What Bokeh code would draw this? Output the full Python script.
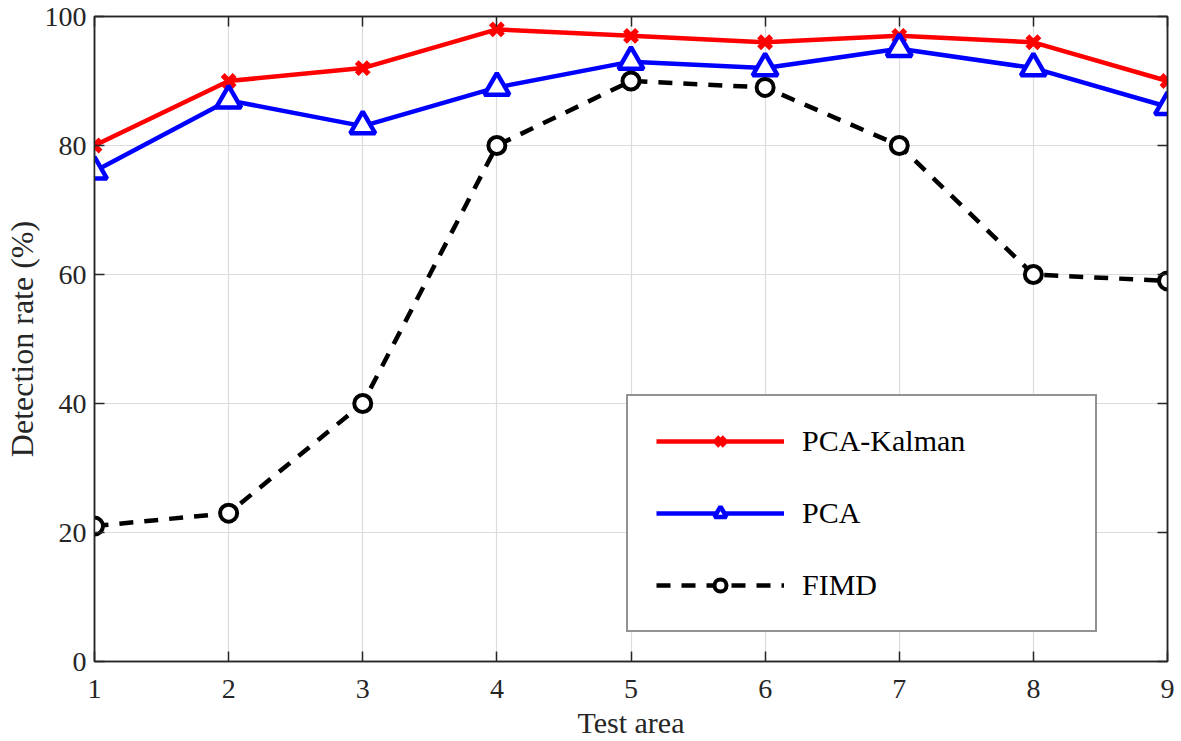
from bokeh.plotting import figure
from bokeh.models import LinearAxis, Range1d, Legend, LegendItem, FixedTicker
from bokeh.embed import file_html
from bokeh.resources import INLINE

test_area = [1, 2, 3, 4, 5, 6, 7, 8, 9]
pca_kalman = [80, 90, 92, 98, 97, 96, 97, 96, 90]
pca = [76, 87, 83, 89, 93, 92, 95, 92, 86]
fimd = [21, 23, 40, 80, 90, 89, 80, 60, 59]
x_ticks = [1, 2, 3, 4, 5, 6, 7, 8, 9]
y_ticks = [0, 20, 40, 60, 80, 100]

FONT = "Liberation Serif"
AX = "#262626"

p = figure(width=1181, height=741, output_backend="svg", toolbar_location=None,
           x_range=Range1d(1, 9), y_range=Range1d(0, 100),
           min_border_left=93, min_border_right=14, min_border_top=16, min_border_bottom=78)
p.background_fill_color = "white"
p.border_fill_color = "white"
p.outline_line_color = AX
p.outline_line_width = 1.5
p.outline_line_alpha = 1

for ax in [p.xaxis[0], p.yaxis[0]]:
    ax.major_tick_in = 10
    ax.major_tick_out = 0
    ax.minor_tick_in = 0
    ax.minor_tick_out = 0
    ax.axis_line_color = AX
    ax.axis_line_width = 1.5
    ax.major_tick_line_color = AX
    ax.major_tick_line_width = 1.5
    ax.major_label_text_font = FONT
    ax.major_label_text_font_size = "28px"
    ax.major_label_text_color = "#262626"
    ax.axis_label_text_font = FONT
    ax.axis_label_text_font_style = "normal"
    ax.axis_label_text_color = "#262626"

p.xaxis[0].ticker = FixedTicker(ticks=x_ticks)
p.yaxis[0].ticker = FixedTicker(ticks=y_ticks)
p.xaxis[0].axis_label = "Test area"
p.yaxis[0].axis_label = "Detection rate (%)"
p.xaxis[0].axis_label_text_font_size = "30px"
p.yaxis[0].axis_label_text_font_size = "32px"
p.xaxis[0].major_label_standoff = 18
p.yaxis[0].major_label_standoff = 8
p.xaxis[0].axis_label_standoff = 5
p.yaxis[0].axis_label_standoff = 2

for loc, tick in [("above", x_ticks), ("right", y_ticks)]:
    a = LinearAxis(ticker=FixedTicker(ticks=tick), major_tick_in=10, major_tick_out=0,
                   minor_tick_in=0, minor_tick_out=0, axis_line_color=AX, axis_line_width=1.5,
                   major_tick_line_color=AX, major_tick_line_width=1.5,
                   major_label_overrides={t: "" for t in tick}, major_label_standoff=0)
    p.add_layout(a, loc)

p.xgrid.ticker = FixedTicker(ticks=x_ticks)
p.ygrid.ticker = FixedTicker(ticks=y_ticks)
p.grid.grid_line_color = "#dcdcdc"
p.grid.grid_line_width = 1.2

r1l = p.line(test_area, pca_kalman, line_color="red", line_width=4.5)
r1m = p.scatter(test_area, pca_kalman, marker="x", size=17, line_color="red", line_width=5.5)
r2l = p.line(test_area, pca, line_color="blue", line_width=4.5)
r2m = p.scatter(test_area, pca, marker="triangle", size=25, line_color="blue", line_width=4.5,
                fill_color="white")
r3l = p.line(test_area, fimd, line_color="black", line_width=4.5, line_dash="14 11")
r3m = p.scatter(test_area, fimd, marker="circle", size=17, line_color="black", line_width=4,
                fill_color="white")

legend = Legend(items=[
    LegendItem(label="PCA-Kalman", renderers=[r1l, r1m]),
    LegendItem(label="PCA", renderers=[r2l, r2m]),
    LegendItem(label="FIMD", renderers=[r3l, r3m]),
], location=(532, 29))
legend.label_text_font = FONT
legend.label_text_font_size = "30px"
legend.label_text_color = "black"
legend.glyph_width = 128
legend.glyph_height = 30
legend.label_height = 30
legend.label_width = 265
legend.label_standoff = 18
legend.spacing = 38
legend.padding = 28
legend.margin = 0
legend.border_line_color = AX
legend.border_line_width = 2
legend.background_fill_color = "white"
legend.background_fill_alpha = 1
p.add_layout(legend, "center")

open("out.html", "w").write(file_html(p, INLINE))
